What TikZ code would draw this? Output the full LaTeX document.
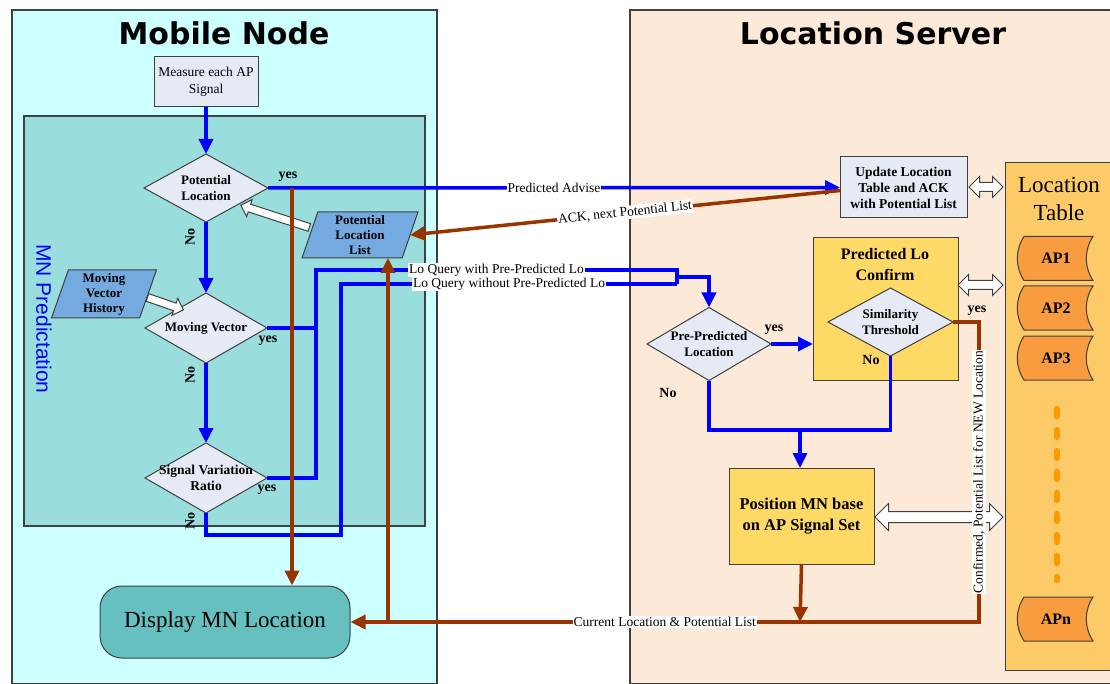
\documentclass[tikz,border=0pt]{standalone}
\usepackage{fontspec}
\setmainfont{Liberation Serif}
\newfontfamily\titlefont{DejaVu Sans}
\newfontfamily\sansf{Liberation Sans}
\usetikzlibrary{shapes.geometric,shapes.arrows,arrows.meta,calc}
\definecolor{mnbg}{HTML}{CCFFFF}
\definecolor{mnin}{HTML}{99DDDD}
\definecolor{lav}{HTML}{E6EAF5}
\definecolor{parab}{HTML}{74AADF}
\definecolor{dispc}{HTML}{66C0C0}
\definecolor{srvbg}{HTML}{FDE9D7}
\definecolor{yelb}{HTML}{FFD966}
\definecolor{tblc}{HTML}{FDCA68}
\definecolor{apc}{HTML}{F99B3F}
\definecolor{dotc}{HTML}{FF9900}
\definecolor{brn}{HTML}{993300}
\definecolor{bord}{HTML}{404040}
\begin{document}
\begin{tikzpicture}[x=1pt,y=-1pt,
  cont/.style={draw=bord, line width=1.5pt, inner sep=0, outer sep=0},
  lbox/.style={draw=bord, line width=1pt, fill=lav, inner sep=0, outer sep=0, align=center},
  ybox/.style={draw=bord, line width=1pt, fill=yelb, inner sep=0, outer sep=0, align=center},
  dia/.style={draw=bord, line width=1pt, fill=lav, shape=diamond, inner sep=0, outer sep=0},
  para/.style={draw=bord, line width=1pt, fill=parab, shape=trapezium, trapezium left angle=68, trapezium right angle=112, trapezium stretches body=true, inner sep=0, outer sep=0, align=center, font=\fontsize{13}{15}\selectfont\bfseries},
  btext/.style={align=center, font=\fontsize{13}{16}\selectfont\bfseries, inner sep=0},
  rtext/.style={align=center, font=\fontsize{13.5}{17}\selectfont, inner sep=0},
  bigb/.style={align=center, font=\fontsize{16}{21}\selectfont\bfseries, inner sep=0},
  yn/.style={font=\fontsize{14}{15}\selectfont\bfseries, inner sep=0},
  lbl/.style={fill=white, inner sep=1pt, font=\fontsize{13.5}{14}\selectfont},
  titletext/.style={font=\titlefont\bfseries\fontsize{30}{32}\selectfont, inner sep=0},
  bl/.style={draw=blue, line width=3.5pt},
  br/.style={draw=brn, line width=3.5pt},
  btip/.style={-{Triangle[length=15pt,width=14pt]}},
  dbl/.style={double arrow, draw=bord, line width=1pt, fill=white, inner sep=4pt, double arrow head extend=6pt, outer sep=0},
  sgl/.style={single arrow, draw=bord, line width=1pt, fill=white, inner sep=3.5pt, single arrow head extend=5pt, outer sep=0},
  apsh/.style={draw=bord, line width=1pt, fill=apc}
]
\useasboundingbox (0,0) rectangle (1110,684);
\clip (0,0) rectangle (1110,684);
\fill[white] (0,0) rectangle (1110,684);

% containers
\node[cont, fill=mnbg, minimum width=425, minimum height=674, anchor=north west] (mnbox) at (12,10) {};
\node[cont, fill=srvbg, minimum width=490, minimum height=674, anchor=north west] (lsbox) at (630,10) {};
\node[cont, fill=mnin, minimum width=401, minimum height=410, anchor=north west] (pred) at (24,116) {};
\node[titletext] (t1) at (224,33) {Mobile Node};
\node[titletext] (t2) at (873,33) {Location Server};
\node[font=\sansf\fontsize{21}{22}\selectfont, text=blue, rotate=-90, inner sep=0] (predlbl) at (44,319) {MN Predictation};

% mobile node flow
\node[lbox, rtext, minimum width=104, minimum height=50] (meas) at (206,82) {Measure each AP\\Signal};
\node[dia, minimum width=124, minimum height=68] (pl) at (206,188) {};
\node[btext] (pltx) at (pl) {Potential\\Location};
\node[dia, minimum width=122, minimum height=70] (mv) at (206,328) {};
\node[btext] (mvtx) at (mv) {Moving Vector};
\node[dia, minimum width=122, minimum height=70] (svr) at (206,478) {};
\node[btext, font=\fontsize{13.5}{16}\selectfont\bfseries] (svrtx) at (svr) {Signal Variation\\Ratio};
\node[para, minimum width=116, minimum height=46] (pll) at (360,235) {Potential\\Location\\List};
\node[para, minimum width=105, minimum height=48] (mvh) at (104,294) {Moving\\Vector\\History};
\node[draw=bord, line width=1pt, fill=dispc, rounded corners=22pt, minimum width=250, minimum height=72, inner sep=0, font=\fontsize{23}{25}\selectfont] (disp) at (225,622) {Display MN Location};

% server side
\node[lbox, btext, font=\fontsize{13.5}{16}\selectfont\bfseries, minimum width=127, minimum height=61] (upd) at (903.5,187.5) {Update Location\\Table and ACK\\with Potential List};
\node[cont, line width=1pt, fill=tblc, minimum width=110, minimum height=507, anchor=north west] (lt) at (1005,163) {};
\node[align=center, font=\fontsize{23}{28}\selectfont, inner sep=0] (lttx) at (1059,199) {Location\\Table};
\node[ybox, minimum width=145, minimum height=142] (conf) at (885.5,309) {};
\node[bigb] (conftx) at (885,265) {Predicted Lo\\Confirm};
\node[dia, minimum width=125, minimum height=68] (sim) at (890.5,322) {};
\node[btext] (simtx) at (sim) {Similarity\\Threshold};
\node[dia, minimum width=124, minimum height=73] (pp) at (709,344) {};
\node[btext] (pptx) at (pp) {Pre-Predicted\\Location};
\node[ybox, bigb, font=\fontsize{16.5}{21}\selectfont\bfseries, minimum width=145, minimum height=96] (pos) at (801.5,516) {Position MN base\\on AP Signal Set};

\foreach \n/\y/\t in {ap1/258.5/AP1, ap2/308/AP2, ap3/358/AP3, apn/619/APn} {
  \draw[apsh] (1024,\y-22) -- (1093,\y-22) .. controls (1084,\y-8) and (1084,\y+8) .. (1093,\y+22) -- (1024,\y+22) .. controls (1015,\y+8) and (1015,\y-8) .. (1024,\y-22) -- cycle;
  \node[font=\fontsize{16}{17}\selectfont\bfseries, inner sep=0] (\n) at (1056,\y) {\t};
}
\draw[draw=dotc, line width=6.5pt, line cap=round, dash pattern=on 7pt off 14pt] (1057,409) -- (1057,580);

% white arrows
\node[dbl, minimum height=34] (da1) at (986,187) {};
\node[dbl, minimum height=45] (da2) at (980.5,285) {};
\node[dbl, minimum height=128, inner sep=5pt, double arrow head extend=8pt] (da3) at (939,517) {};
\node[sgl, minimum height=72, rotate=162] (sa1) at (277,217) {};
\node[sgl, minimum height=38, rotate=-19] (sa2) at (163.5,303) {};

% blue connectors
\draw[bl, btip] (meas.south) -- (pl.north);
\draw[bl, btip] (pl.south) -- (mv.north);
\draw[bl, btip] (mv.south) -- (svr.north);
\draw[bl, btip] (pl.east) -- node[lbl]{Predicted Advise} (upd.west);
\draw[bl] (mv.east) -- (316,328);
\draw[bl] (svr.east) -- (316,478) -- (316,270) -- node[lbl]{Lo Query with Pre-Predicted Lo} (677,270) -- (677,284);
\draw[bl] (svr.south) -- (206,535) -- (341,535) -- (341,284) -- node[lbl]{Lo Query without Pre-Predicted Lo} (677,284);
\coordinate (qj) at (677,277);
\draw[bl, btip] (qj) -| (pp.north);
\draw[bl, btip] (pp.east) -- (pp.east -| conf.west);
\draw[bl] (pp.south) -- (709,430) -- (890.5,430) -- (sim.south);
\coordinate (mj) at (800,430);
\draw[bl, btip] (mj) -- (mj |- pos.north);

% brown connectors
\draw[br, btip] ($(upd.west)+(0,3)$) -- node[lbl, sloped]{ACK, next Potential List} (pll.east);
\coordinate (yj) at (292,188);
\draw[br, btip] (yj) -- (yj |- disp.north);
\coordinate (bj) at (388,622);
\draw[br, btip] (bj) -- (bj |- pll.south);
\coordinate (pj) at (800,622);
\draw[br, btip] (pos.south) -- (pj);
\draw[br, btip] (sim.east) -- (979,322) -- node[lbl, rotate=90]{Confirmed, Potential List for NEW Location} (979,622) -- node[lbl]{Current Location \& Potential List} (disp.east);

% yes / no labels
\node[yn] (y1) at (288,177) {yes};
\node[yn] (y2) at (268,341) {yes};
\node[yn] (y3) at (267,490) {yes};
\node[yn, rotate=90] (n1) at (190,237) {No};
\node[yn, rotate=90] (n2) at (190,375) {No};
\node[yn, rotate=90] (n3) at (190,521) {No};
\node[yn] (y4) at (774,330) {yes};
\node[yn] (n4) at (668,393) {No};
\node[yn] (y5) at (977,311) {yes};
\node[yn] (n5) at (871,360) {No};
\end{tikzpicture}
\end{document}
